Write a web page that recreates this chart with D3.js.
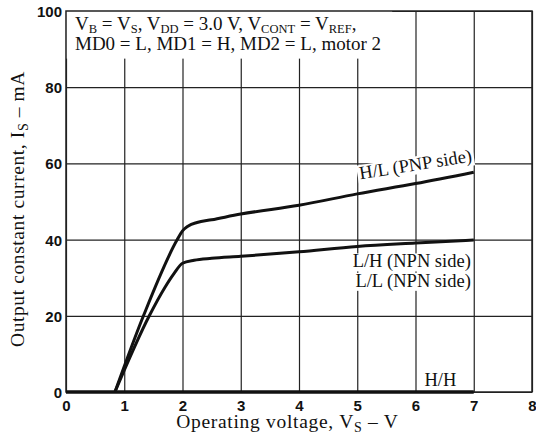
<!DOCTYPE html>
<html lang="en">
  <head>
    <meta charset="utf-8">
    <title>Output constant current vs operating voltage</title>
    <script src="https://d3js.org/d3.v7.min.js"></script>
    <style>
      body { margin: 0; background: white; }
      .serif { font-family: "Liberation Serif", "Times New Roman", serif; fill: #111; }
      .tick text { font-family: "Liberation Sans", Arial, sans-serif; font-weight: bold; font-size: 15px; fill: #111; }
    </style>
  </head>
  <body>
    <script type="text/javascript">

      // data
      var xTicks = [0, 1, 2, 3, 4, 5, 6, 7, 8];
      var yTicks = [0, 20, 40, 60, 80, 100];

      // H/L (PNP side)
      var pnpV = [0.84, 1.33, 1.91, 2.0, 2.1, 2.25, 2.5, 3, 4, 5, 6, 7];
      var pnpI = [0, 20, 40, 42.3, 43.6, 44.5, 45.2, 46.7, 49, 52, 54.7, 57.7];
      // L/H and L/L (NPN side)
      var npnV = [0.84, 1.43, 1.7, 1.85, 2.0, 2.2, 2.5, 3, 4, 5, 6, 7];
      var npnI = [0, 20, 27.5, 31, 33.8, 34.6, 35.1, 35.6, 36.8, 38.2, 39.1, 39.9];
      // H/H
      var hhV = [0, 7];
      var hhI = [0, 0];

      var w = 536, h = 439;
      var margin = {top: 11, right: 4, bottom: 47, left: 66};
      var innerWidth = w - margin.left - margin.right;
      var innerHeight = h - margin.top - margin.bottom;

      var svg = d3.select("body").append("svg")
          .attr("width", w)
          .attr("height", h);

      var xScale = d3.scaleLinear().domain([0, 8]).range([0, innerWidth]);
      var yScale = d3.scaleLinear().domain([0, 100]).range([innerHeight, 0]);

      var g = svg.append("g")
          .attr("transform", `translate (${margin.left}, ${margin.top})`);

// grid lines via axes
      var xAxis = d3.axisBottom(xScale)
          .tickValues(xTicks)
          .tickSize(-innerHeight)
          .tickPadding(8)
          .tickFormat(d3.format("d"));

      var yAxis = d3.axisLeft(yScale)
          .tickValues(yTicks)
          .tickSize(-innerWidth)
          .tickPadding(4)
          .tickFormat(d3.format("d"));

      g.append("g")
         .attr("class", "xAxis")
         .attr("transform", `translate (0, ${innerHeight})`)
         .call(xAxis);

      g.append("g")
         .attr("class", "yAxis")
         .call(yAxis);

      g.selectAll(".domain").remove();
      g.selectAll(".tick line")
         .attr("stroke", "#222")
         .attr("stroke-width", 1.2);
      g.selectAll(".yAxis .tick text").attr("dy", "0.36em");
      g.selectAll(".xAxis .tick text").attr("dy", "0.75em");

// header box covers top grid
      g.append("rect")
         .attr("x", 0)
         .attr("y", 0)
         .attr("width", xScale(5.6))
         .attr("height", yScale(87.5))
         .attr("fill", "white");

      // border
      g.append("rect")
         .attr("width", innerWidth)
         .attr("height", innerHeight)
         .attr("fill", "none")
         .attr("stroke", "#222")
         .attr("stroke-width", 1.5);

      // text with subscripts, parts flagged 1 are lowered
      function rich(sel, parts, subSize, drop) {
        var down = false;
        parts.forEach(function(p) {
          var t = sel.append("tspan").text(p[0]);
          if (p[1]) {
            t.attr("font-size", subSize + "px");
            if (!down) t.attr("dy", drop);
            down = true;
          } else if (down) {
            t.attr("dy", -drop);
            down = false;
          }
        });
      }

      var head1 = g.append("text").attr("class", "serif")
         .attr("x", 9).attr("y", 19)
         .attr("font-size", "19px");
      rich(head1, [["V"], ["B", 1], [" = V"], ["S", 1], [", V"], ["DD", 1], [" = 3.0 V, V"], ["CONT", 1], [" = V"], ["REF", 1], [","]], 12.5, 3);

      g.append("text").attr("class", "serif")
         .attr("x", 9).attr("y", 39)
         .attr("font-size", "19px")
         .text("MD0 = L, MD1 = H, MD2 = L, motor 2");

// curves
      var line = d3.line()
          .x(function(d) { return xScale(d[0]) })
          .y(function(d) { return yScale(d[1]) })
          .curve(d3.curveMonotoneX);

      var series = [d3.zip(pnpV, pnpI), d3.zip(npnV, npnI)];

      g.selectAll("path.curve")
         .data(series)
         .enter().append("path")
         .attr("class", "curve")
         .attr("d", line)
         .attr("fill", "none")
         .attr("stroke", "#111")
         .attr("stroke-width", 3)
         .attr("stroke-linejoin", "round");

      g.append("path")
         .attr("d", line.curve(d3.curveLinear)(d3.zip(hhV, hhI)))
         .attr("fill", "none")
         .attr("stroke", "#111")
         .attr("stroke-width", 3.5);

// curve labels with white backing
      function label(txt, x, y, rot, anchor) {
        var lg = g.append("g")
           .attr("transform", `translate (${x}, ${y}) rotate(${rot})`);
        var t = lg.append("text").attr("class", "serif")
           .attr("font-size", "18.5px")
           .attr("text-anchor", anchor)
           .text(txt);
        var b = t.node().getBBox();
        lg.insert("rect", "text")
           .attr("x", b.x - 2).attr("y", b.y + 2)
           .attr("width", b.width + 4).attr("height", b.height - 3)
           .attr("fill", "white");
      }

      label("H/L (PNP side)", xScale(6.98), yScale(60.5), -9, "end");
      label("L/H (NPN side)", xScale(6.95), yScale(32.7), 0, "end");
      label("L/L (NPN side)", xScale(6.95), yScale(27.6), 0, "end");
      label("H/H", xScale(6.7), yScale(1.7), 0, "end");

// axis titles
      var xt = svg.append("text").attr("class", "serif")
         .attr("x", margin.left + xScale(3.8))
         .attr("y", 428)
         .attr("font-size", "19.5px")
         .attr("letter-spacing", "0.7px")
         .attr("text-anchor", "middle");
      rich(xt, [["Operating voltage, V"], ["S", 1], [" \u2013 V"]], 14, 4);

      var yt = svg.append("text").attr("class", "serif")
         .attr("transform", "translate(24, 209) rotate(-90)")
         .attr("font-size", "19.5px")
         .attr("letter-spacing", "0.6px")
         .attr("text-anchor", "middle");
      rich(yt, [["Output constant current, I"], ["S", 1], [" \u2013 mA"]], 14, 4);

    </script>
  </body>
</html>
